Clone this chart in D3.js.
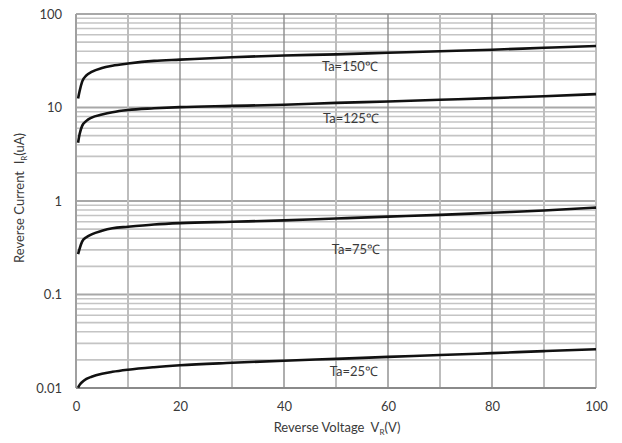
<!DOCTYPE html>
<html>
<head>
<meta charset="utf-8">
<script src="https://cdn.jsdelivr.net/npm/d3@7.9.0/dist/d3.min.js"></script>
<style>
  body { margin: 0; background: #fff; }
  svg text { font-family: Lato, "Open Sans", sans-serif; fill: #3a3a3a; }
</style>
</head>
<body>
<svg id="chart" width="622" height="443"></svg>
<script>
// reverse voltage (V) where the curves were read
const vr = [0.4, 0.7, 1.2, 2, 3, 5, 7, 10, 15, 20, 30, 40, 50, 60, 70, 80, 90, 100];

// reverse current (uA) for each temperature
const ir150 = [12.5, 15, 19, 22, 24, 26.5, 28, 29.5, 31.5, 32.5, 34.5, 36, 37, 38.5, 40, 41.5, 43.5, 45.5];
const ir125 = [4.2, 5.2, 6.4, 7.2, 7.8, 8.4, 8.9, 9.4, 9.8, 10.1, 10.4, 10.7, 11.2, 11.6, 12.1, 12.6, 13.2, 13.9];
const ir75 = [0.27, 0.31, 0.37, 0.41, 0.44, 0.48, 0.51, 0.53, 0.56, 0.58, 0.6, 0.62, 0.65, 0.68, 0.71, 0.75, 0.79, 0.85];
const ir25 = [0.0101, 0.0108, 0.0116, 0.0125, 0.0132, 0.0142, 0.0149, 0.0157, 0.0167, 0.0175, 0.0186, 0.0196, 0.0205, 0.0215, 0.0225, 0.0236, 0.0248, 0.026];

const labels = ['Ta=150\u2103', 'Ta=125\u2103', 'Ta=75\u2103', 'Ta=25\u2103'];
const labelV = [47.3, 47.5, 49.2, 48.8];
const labelI = [27.8, 7.7, 0.3, 0.0152];

const xTicks = [0, 20, 40, 60, 80, 100];
const yTicks = [0.01, 0.1, 1, 10, 100];
const yTickLabels = ['0.01', '0.1', '1', '10', '100'];

const margin = { top: 14, right: 26, bottom: 55, left: 76 };
const width = 622 - margin.left - margin.right;
const height = 443 - margin.top - margin.bottom;

const svg = d3.select('#chart');
const g = svg.append('g').attr('transform', `translate(${margin.left},${margin.top})`);

const x = d3.scaleLinear().domain([0, 100]).range([0, width]);
const y = d3.scaleLog().domain([0.01, 100]).range([height, 0]);

// minor horizontal grid (2..9 in every decade)
let minor = [];
for (let d of [0.01, 0.1, 1, 10]) {
  for (let k = 2; k <= 9; k++) minor.push(d * k);
}
g.selectAll('.hminor').data(minor).enter().append('line')
  .attr('x1', 0).attr('x2', width)
  .attr('y1', d => y(d)).attr('y2', d => y(d))
  .attr('stroke', '#c4c4c4').attr('stroke-width', 1.6);

// decade lines
g.selectAll('.hmajor').data([0.1, 1, 10, 100]).enter().append('line')
  .attr('x1', 0).attr('x2', width)
  .attr('y1', d => y(d)).attr('y2', d => y(d))
  .attr('stroke', '#a8a8a8').attr('stroke-width', 2);

// vertical grid
let vlines = d3.range(10, 101, 10);
g.selectAll('.vgrid').data(vlines).enter().append('line')
  .attr('x1', d => x(d)).attr('x2', d => x(d))
  .attr('y1', 0).attr('y2', height)
  .attr('stroke', d => (d % 20 === 0 && d < 100) ? '#8c8c8c' : '#bdbdbd')
  .attr('stroke-width', d => (d % 20 === 0 && d < 100) ? 1.4 : 2);

// left and bottom axis lines
g.append('line').attr('x1', 0).attr('x2', 0).attr('y1', 0).attr('y2', height)
  .attr('stroke', '#a0a0a0').attr('stroke-width', 2);
g.append('line').attr('x1', 0).attr('x2', width).attr('y1', height).attr('y2', height)
  .attr('stroke', '#8a8a8a').attr('stroke-width', 2);

// axes (labels only)
const xAxis = d3.axisBottom(x).tickValues(xTicks).tickSize(0).tickPadding(14);
const xg = g.append('g').attr('transform', `translate(0,${height})`).call(xAxis);
xg.select('.domain').remove();
xg.selectAll('text').attr('font-size', 13).style('fill', '#3a3a3a');

const yAxis = d3.axisLeft(y).tickValues(yTicks).tickSize(0).tickPadding(14)
  .tickFormat((d, i) => yTickLabels[i]);
const yg = g.append('g').call(yAxis);
yg.select('.domain').remove();
yg.selectAll('text').attr('font-size', 13).style('fill', '#3a3a3a');

// curves
const line = d3.line()
  .x((d, i) => x(vr[i]))
  .y(d => y(d))
  .curve(d3.curveMonotoneX);

for (let s of [ir150, ir125, ir75, ir25]) {
  g.append('path').attr('d', line(s))
    .attr('fill', 'none').attr('stroke', '#111').attr('stroke-width', 2.6);
}

// temperature labels
labels.forEach((t, i) => {
  g.append('text')
    .attr('x', x(labelV[i]))
    .attr('y', y(labelI[i]))
    .attr('dy', '0.35em')
    .attr('font-size', 13)
    .text(t);
});

// axis titles
const xt = svg.append('text')
  .attr('x', 337).attr('y', 432)
  .attr('text-anchor', 'middle').attr('font-size', 13);
xt.append('tspan').text('Reverse Voltage\u00a0\u00a0V');
xt.append('tspan').attr('font-size', 8).attr('dy', 3).text('R');
xt.append('tspan').attr('dy', -3).text('(V)');

const yt = svg.append('text')
  .attr('transform', 'translate(24,198) rotate(-90)')
  .attr('text-anchor', 'middle').attr('font-size', 13);
yt.append('tspan').text('Reverse Current\u00a0\u00a0I');
yt.append('tspan').attr('font-size', 8).attr('dy', 3).text('R');
yt.append('tspan').attr('dy', -3).text('(uA)');
</script>
</body>
</html>
